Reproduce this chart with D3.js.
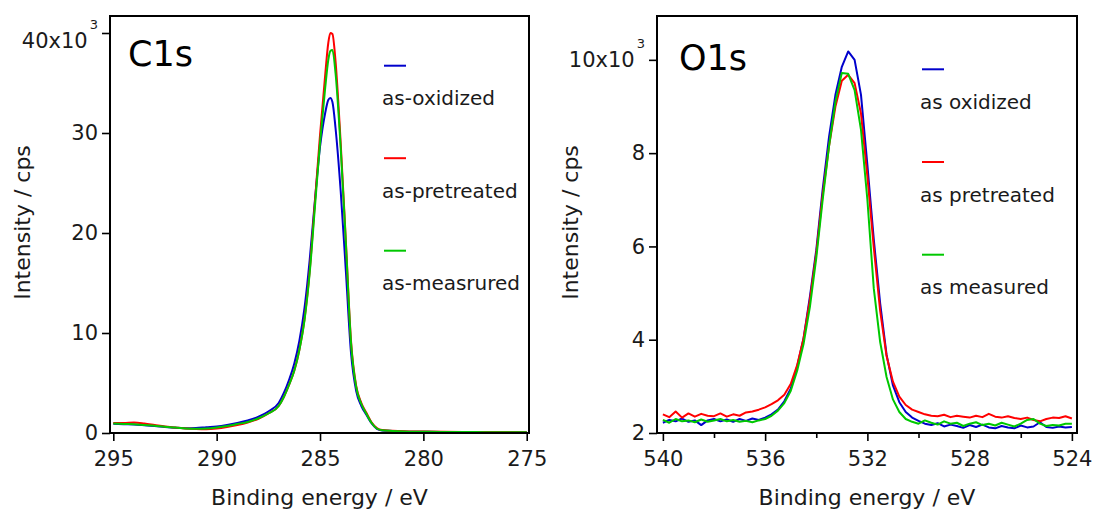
<!DOCTYPE html>
<html>
<head>
<meta charset="utf-8">
<script src="https://cdn.jsdelivr.net/npm/d3@7"></script>
<style>
  html, body { margin: 0; padding: 0; background: #fff; }
  svg { display: block; font-family: "DejaVu Sans", Verdana, sans-serif; }
</style>
</head>
<body>
<svg id="chart" width="1098" height="511"></svg>
<script>
// ---------------- DATA ----------------
const seriesNames = ["as-oxidized", "as-pretreated", "as-measrured"];
const seriesNamesO = ["as oxidized", "as pretreated", "as measured"];
const seriesColors = ["#0000cc", "#ff0000", "#00c800"];

// C1s: binding energy (eV) and intensity (x10^3 cps)
const c1sEnergy = [295, 294.5, 294, 293.5, 293, 292.5, 292, 291.5, 291, 290.5, 290, 289.5, 289, 288.5, 288, 287.5, 287, 286.75, 286.5, 286.25, 286, 285.75, 285.5, 285.25, 285, 284.75, 284.6, 284.5, 284.4, 284.25, 284, 283.75, 283.5, 283.25, 283, 282.75, 282.5, 282.25, 282, 281.5, 281, 280, 279, 278, 277, 276, 275];
const c1sOxidized = [0.92, 0.88, 0.85, 0.78, 0.70, 0.60, 0.52, 0.48, 0.50, 0.58, 0.65, 0.80, 1.00, 1.25, 1.60, 2.15, 3.00, 4.00, 5.30, 6.90, 9.20, 12.5, 17.3, 23.2, 28.6, 32.0, 33.3, 33.5, 33.1, 30.5, 24.2, 16.2, 8.0, 4.2, 2.7, 1.8, 0.95, 0.42, 0.26, 0.20, 0.15, 0.12, 0.10, 0.10, 0.09, 0.08, 0.08];
const c1sPretreated = [1.00, 1.00, 1.05, 0.95, 0.80, 0.65, 0.55, 0.45, 0.40, 0.38, 0.45, 0.60, 0.80, 1.05, 1.40, 1.95, 2.70, 3.60, 4.80, 6.20, 8.30, 11.4, 16.2, 23.0, 29.8, 35.8, 39.0, 40.0, 39.9, 37.2, 29.0, 19.2, 9.2, 4.7, 3.0, 2.0, 1.05, 0.50, 0.30, 0.22, 0.17, 0.14, 0.12, 0.11, 0.10, 0.09, 0.08];
const c1sMeasured = [0.95, 0.90, 0.88, 0.80, 0.72, 0.62, 0.55, 0.45, 0.42, 0.45, 0.55, 0.70, 0.90, 1.10, 1.45, 1.95, 2.70, 3.60, 4.80, 6.20, 8.30, 11.3, 16.0, 22.5, 29.0, 34.5, 37.3, 38.2, 38.3, 36.0, 28.5, 19.0, 9.0, 4.6, 2.9, 1.9, 1.0, 0.45, 0.28, 0.20, 0.15, 0.12, 0.10, 0.10, 0.08, 0.08, 0.07];
const c1sXTicks = [295, 290, 285, 280, 275];
const c1sYTicks = [0, 10, 20, 30, 40];

// O1s: binding energy (eV) and intensity (x10^3 cps)
const o1sEnergy = [540, 539.75, 539.5, 539.25, 539, 538.75, 538.5, 538.25, 538, 537.75, 537.5, 537.25, 537, 536.75, 536.5, 536.25, 536, 535.75, 535.5, 535.25, 535, 534.75, 534.5, 534.25, 534, 533.75, 533.5, 533.25, 533, 532.75, 532.5, 532.25, 532, 531.75, 531.5, 531.25, 531, 530.75, 530.5, 530.25, 530, 529.75, 529.5, 529.25, 529, 528.75, 528.5, 528.25, 528, 527.75, 527.5, 527.25, 527, 526.75, 526.5, 526.25, 526, 525.75, 525.5, 525.25, 525, 524.75, 524.5, 524.25, 524];
const o1sOxidized = [2.22, 2.28, 2.25, 2.31, 2.24, 2.27, 2.17, 2.27, 2.30, 2.25, 2.29, 2.24, 2.30, 2.26, 2.31, 2.28, 2.33, 2.40, 2.50, 2.68, 2.95, 3.42, 4.02, 4.92, 5.92, 7.22, 8.35, 9.25, 9.85, 10.18, 10.00, 9.25, 7.75, 6.15, 4.78, 3.68, 3.02, 2.66, 2.45, 2.33, 2.26, 2.20, 2.17, 2.21, 2.14, 2.18, 2.15, 2.11, 2.17, 2.13, 2.18, 2.12, 2.10, 2.15, 2.12, 2.10, 2.16, 2.12, 2.14, 2.23, 2.13, 2.11, 2.14, 2.12, 2.13];
const o1sPretreated = [2.40, 2.34, 2.46, 2.33, 2.42, 2.35, 2.41, 2.37, 2.36, 2.42, 2.35, 2.40, 2.37, 2.44, 2.46, 2.50, 2.55, 2.62, 2.70, 2.82, 3.05, 3.45, 4.02, 4.85, 5.85, 7.10, 8.15, 9.00, 9.55, 9.68, 9.50, 8.85, 7.50, 5.98, 4.62, 3.65, 3.10, 2.78, 2.60, 2.50, 2.45, 2.40, 2.37, 2.36, 2.39, 2.34, 2.37, 2.35, 2.33, 2.37, 2.34, 2.41, 2.35, 2.33, 2.36, 2.32, 2.30, 2.33, 2.28, 2.25, 2.30, 2.33, 2.32, 2.36, 2.31];
const o1sMeasured = [2.28, 2.22, 2.30, 2.25, 2.27, 2.23, 2.29, 2.24, 2.27, 2.30, 2.25, 2.28, 2.24, 2.26, 2.23, 2.27, 2.30, 2.37, 2.48, 2.64, 2.90, 3.33, 3.90, 4.70, 5.75, 7.00, 8.15, 9.10, 9.72, 9.70, 9.35, 8.50, 7.00, 5.10, 3.95, 3.20, 2.72, 2.45, 2.30, 2.24, 2.20, 2.27, 2.22, 2.18, 2.25, 2.20, 2.22, 2.15, 2.20, 2.23, 2.17, 2.20, 2.16, 2.22, 2.18, 2.14, 2.20, 2.28, 2.30, 2.20, 2.15, 2.17, 2.16, 2.20, 2.20];
const o1sXTicks = [540, 536, 532, 528, 524];
const o1sXMinorTicks = [538, 534, 530, 526];
const o1sYTicks = [2, 4, 6, 8, 10];

// ---------------- DRAWING ----------------
const svg = d3.select("#chart");
const textColor = "#1a1a1a";

function drawPanel(cfg) {
  const g = svg.append("g");
  const x = d3.scaleLinear().domain(cfg.xDomain).range([cfg.left, cfg.right]);
  const y = d3.scaleLinear().domain(cfg.yDomain).range([cfg.bottom, cfg.top]);

  const clipId = "clip-" + cfg.id;
  svg.append("clipPath").attr("id", clipId)
    .append("rect").attr("x", cfg.left).attr("y", cfg.top)
    .attr("width", cfg.right - cfg.left).attr("height", cfg.bottom - cfg.top);

  const line = d3.line().x(d => x(d[0])).y(d => y(d[1])).curve(cfg.curve);
  const lines = g.append("g").attr("clip-path", `url(#${clipId})`);
  cfg.series.forEach((vals, i) => {
    lines.append("path")
      .datum(cfg.energy.map((e, k) => [e, vals[k]]))
      .attr("d", line)
      .attr("fill", "none")
      .attr("stroke", seriesColors[i])
      .attr("stroke-width", 2)
      .attr("stroke-linejoin", "round");
  });

  // x axis
  const xAxis = d3.axisBottom(x).tickValues(cfg.xTicks).tickSize(8).tickPadding(10).tickFormat(d3.format("d"));
  const xg = g.append("g").attr("transform", `translate(0,${cfg.bottom})`).call(xAxis);
  if (cfg.xMinor) {
    const xm = d3.axisBottom(x).tickValues(cfg.xMinor).tickSize(5).tickFormat("");
    const xmg = g.append("g").attr("transform", `translate(0,${cfg.bottom})`).call(xm);
    xmg.select(".domain").remove();
    xmg.selectAll(".tick line").attr("stroke", "#000").attr("stroke-width", 1.6);
  }
  // y axis
  const yAxis = d3.axisLeft(y).tickValues(cfg.yTicks).tickSize(8).tickPadding(4).tickFormat(d3.format("d"));
  const yg = g.append("g").attr("transform", `translate(${cfg.left},0)`).call(yAxis);

  [xg, yg].forEach(a => {
    a.select(".domain").remove();
    a.selectAll(".tick line").attr("stroke", "#000").attr("stroke-width", 1.6);
    a.selectAll(".tick text").attr("fill", textColor)
      .style("font-family", '"DejaVu Sans", Verdana, sans-serif')
      .style("font-size", "21px");
  });

  // top y tick label with x10^3
  const topVal = cfg.yTicks[cfg.yTicks.length - 1];
  yg.selectAll(".tick").filter(d => d === topVal).select("text")
    .each(function () {
      const t = d3.select(this);
      t.text(null).attr("y", cfg.topLabelShift);
      t.append("tspan").text(topVal + "x10");
      t.append("tspan").text("3").attr("font-size", "13px").attr("dy", "-19").attr("dx", "2");
    });

  // frame
  g.append("rect")
    .attr("x", cfg.left).attr("y", cfg.top)
    .attr("width", cfg.right - cfg.left).attr("height", cfg.bottom - cfg.top)
    .attr("fill", "none").attr("stroke", "#000").attr("stroke-width", 2);

  // axis titles
  g.append("text")
    .attr("x", (cfg.left + cfg.right) / 2).attr("y", 505)
    .attr("text-anchor", "middle").attr("fill", textColor)
    .style("font-size", "22px").text("Binding energy / eV");
  g.append("text")
    .attr("transform", `translate(${cfg.yTitleX},${(cfg.top + cfg.bottom) / 2 - 2}) rotate(-90)`)
    .attr("text-anchor", "middle").attr("fill", textColor)
    .style("font-size", "22px").text("Intensity / cps");

  // panel label
  g.append("text")
    .attr("x", cfg.labelX).attr("y", cfg.labelY)
    .attr("fill", "#000").style("font-size", "35px").text(cfg.label);

  // legend
  cfg.legendNames.forEach((name, i) => {
    const ly = cfg.legendY + i * cfg.legendStep;
    g.append("line")
      .attr("x1", cfg.legendX + 2).attr("x2", cfg.legendX + 24)
      .attr("y1", ly).attr("y2", ly)
      .attr("stroke", seriesColors[i]).attr("stroke-width", 2);
    g.append("text")
      .attr("x", cfg.legendX).attr("y", ly + 39.5)
      .attr("fill", textColor).style("font-size", "20px").text(name);
  });
}

drawPanel({
  id: "c1s",
  left: 110, right: 529, top: 16, bottom: 433,
  xDomain: [295.16, 274.89], yDomain: [0, 41.7],
  energy: c1sEnergy,
  series: [c1sOxidized, c1sPretreated, c1sMeasured],
  curve: d3.curveMonotoneX,
  xTicks: c1sXTicks, yTicks: c1sYTicks,
  topLabelShift: 7.5,
  yTitleX: 30,
  label: "C1s", labelX: 128, labelY: 66,
  legendNames: seriesNames, legendX: 382, legendY: 65.7, legendStep: 92.5
});

drawPanel({
  id: "o1s",
  left: 657, right: 1077, top: 16, bottom: 433,
  xDomain: [540.23, 523.8], yDomain: [2, 10.94],
  energy: o1sEnergy,
  series: [o1sOxidized, o1sPretreated, o1sMeasured],
  curve: d3.curveLinear,
  xTicks: o1sXTicks, xMinor: o1sXMinorTicks, yTicks: o1sYTicks,
  topLabelShift: 0,
  yTitleX: 578,
  label: "O1s", labelX: 679, labelY: 70,
  legendNames: seriesNamesO, legendX: 920, legendY: 69.3, legendStep: 92.7
});
</script>
</body>
</html>
